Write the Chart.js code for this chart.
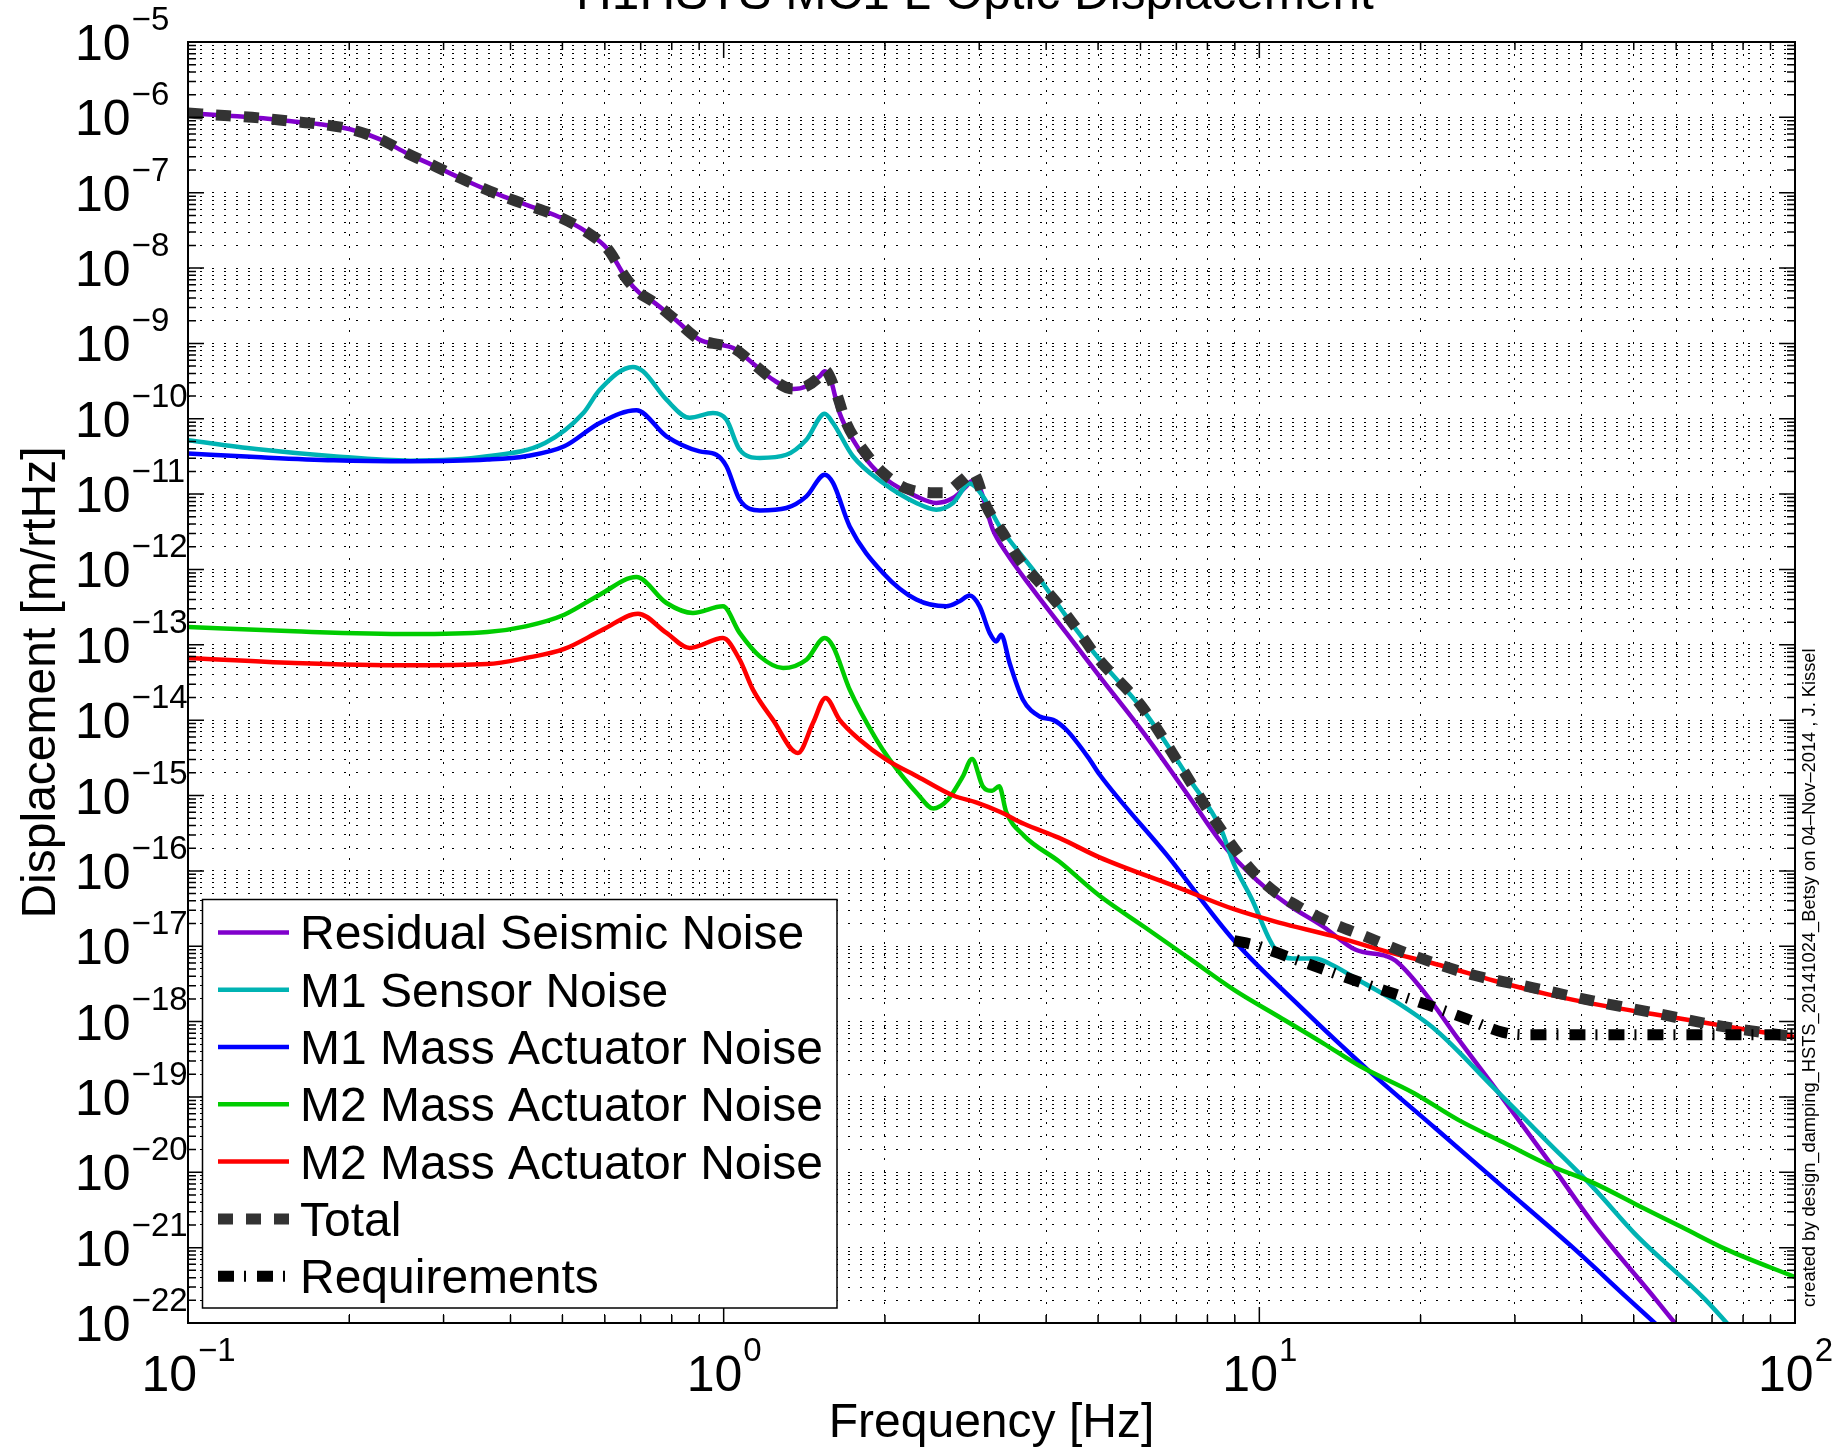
<!DOCTYPE html>
<html>
<head>
<meta charset="utf-8">
<title>HSTS MC1 L Optic Displacement</title>
<script src="https://cdn.jsdelivr.net/npm/chart.js@4.4.1/dist/chart.umd.min.js"></script>
<style>
  html, body { margin: 0; padding: 0; background: #fff; }
  #wrap { position: relative; width: 1846px; height: 1448px; overflow: hidden; }
  canvas { display: block; }
</style>
</head>
<body>
<div id="wrap"><canvas id="asdChart" width="1846" height="1448"></canvas></div>
<script>
// Frequency in Hz, displacement ASD in m/rtHz
const seismicFreq = [0.1, 0.119, 0.136, 0.156, 0.175, 0.2, 0.229, 0.257, 0.291, 0.329, 0.373, 0.427, 0.493, 0.553, 0.609, 0.657, 0.696, 0.737, 0.812, 0.902, 0.983, 1.042, 1.151, 1.236, 1.348, 1.427, 1.511, 1.544, 1.577, 1.646, 1.743, 1.847, 2.012, 2.289, 2.494, 2.68, 2.838, 2.9, 3.005, 3.181, 3.371, 3.78, 4.362, 5.032, 6.104, 7.4, 8.47, 9.88, 11.31, 13.19, 15.1, 17.29, 17.97, 20.16, 23.52, 27.98, 34.59, 41.94, 54.95, 65.0];
const seismicAsd = [1.14e-6, 1.05e-6, 9.82e-7, 8.87e-7, 8.18e-7, 7.0e-7, 5.07e-7, 3.30e-7, 2.20e-7, 1.46e-7, 9.93e-8, 6.95e-8, 4.77e-8, 3.07e-8, 1.75e-8, 7.39e-9, 4.68e-9, 3.61e-9, 2.07e-9, 1.12e-9, 9.64e-10, 8.69e-10, 4.96e-10, 3.30e-10, 2.48e-10, 2.70e-10, 3.66e-10, 4.27e-10, 3.66e-10, 1.19e-10, 5.28e-11, 2.87e-11, 1.56e-11, 9.33e-12, 7.64e-12, 8.87e-12, 1.27e-11, 1.48e-11, 1.21e-11, 3.37e-12, 1.66e-12, 5.41e-13, 1.44e-13, 3.81e-14, 6.52e-15, 9.58e-16, 2.43e-16, 7.59e-17, 3.57e-17, 1.80e-17, 9.04e-18, 7.36e-18, 6.43e-18, 2.64e-18, 5.85e-19, 1.13e-19, 1.45e-20, 2.12e-21, 2.06e-22, 4.7e-23];

const sensorFreq = [0.1, 0.134, 0.187, 0.26, 0.362, 0.464, 0.547, 0.587, 0.677, 0.707, 0.782, 0.864, 0.955, 1.012, 1.071, 1.168, 1.309, 1.427, 1.544, 1.6, 1.743, 1.984, 2.289, 2.494, 2.68, 2.878, 3.048, 3.275, 3.78, 4.362, 5.032, 6.104, 7.4, 8.47, 8.97, 9.7, 10.47, 10.88, 11.53, 12.7, 13.71, 15.4, 17.62, 21.37, 27.45, 34.59, 41.94, 50.85, 67.94, 83.8];
const sensorAsd = [5.18e-11, 3.96e-11, 3.18e-11, 2.78e-11, 3.18e-11, 4.77e-11, 1.19e-10, 2.43e-10, 4.87e-10, 4.27e-10, 1.79e-10, 1.03e-10, 1.19e-10, 9.72e-11, 3.90e-11, 3.02e-11, 3.33e-11, 5.28e-11, 1.17e-10, 8.79e-11, 3.18e-11, 1.41e-11, 7.64e-12, 6.22e-12, 7.64e-12, 1.38e-11, 9.33e-12, 3.73e-12, 9.93e-13, 2.39e-13, 6.35e-14, 1.29e-14, 1.66e-15, 3.66e-16, 1.22e-16, 4.10e-17, 1.19e-17, 7.88e-18, 6.90e-18, 6.90e-18, 5.60e-18, 3.48e-18, 2.01e-18, 7.69e-19, 1.30e-19, 2.50e-20, 6.35e-21, 1.40e-21, 2.06e-22, 3.9e-23];

const m1ActFreq = [0.1, 0.134, 0.187, 0.26, 0.362, 0.427, 0.504, 0.587, 0.687, 0.782, 0.902, 0.969, 1.012, 1.071, 1.168, 1.309, 1.427, 1.544, 1.6, 1.719, 1.984, 2.289, 2.604, 2.756, 2.878, 3.005, 3.137, 3.228, 3.297, 3.418, 3.62, 3.89, 4.12, 4.362, 4.823, 5.032, 6.722, 8.97, 11.99, 16.0, 21.37, 28.53, 38.1, 48.96, 58.77];
const m1ActAsd = [3.45e-11, 3.10e-11, 2.81e-11, 2.73e-11, 2.87e-11, 3.18e-11, 4.31e-11, 8.79e-11, 1.30e-10, 5.85e-11, 3.69e-11, 3.33e-11, 2.34e-11, 8.45e-12, 6.08e-12, 6.54e-12, 9.33e-12, 1.81e-11, 1.41e-11, 3.73e-12, 8.97e-13, 3.98e-13, 3.24e-13, 3.78e-13, 4.50e-13, 3.24e-13, 1.44e-13, 1.11e-13, 1.36e-13, 5.74e-14, 1.87e-14, 1.12e-14, 1.01e-14, 7.46e-15, 3.00e-15, 1.90e-15, 1.62e-16, 1.19e-17, 1.52e-18, 2.24e-19, 3.78e-20, 6.35e-21, 1.07e-21, 2.06e-22, 6.3e-23];

const m2ActFreq = [0.1, 0.158, 0.26, 0.362, 0.427, 0.504, 0.587, 0.687, 0.782, 0.876, 0.997, 1.071, 1.168, 1.291, 1.427, 1.544, 1.6, 1.719, 1.928, 2.041, 2.304, 2.461, 2.616, 2.794, 2.909, 3.045, 3.17, 3.268, 3.369, 3.634, 4.23, 5.032, 6.104, 7.4, 8.97, 10.88, 13.19, 15.4, 19.41, 23.52, 28.53, 34.59, 41.94, 50.85, 61.7, 74.8, 100];
const m2ActAsd = [1.72e-13, 1.51e-13, 1.39e-13, 1.48e-13, 1.76e-13, 2.51e-13, 4.63e-13, 7.94e-13, 3.59e-13, 2.64e-13, 3.24e-13, 1.44e-13, 7.03e-14, 4.92e-14, 6.35e-14, 1.23e-13, 9.55e-14, 2.54e-14, 5.51e-15, 3.00e-15, 1.04e-15, 6.73e-16, 8.66e-16, 1.78e-15, 3.05e-15, 1.33e-15, 1.155e-15, 1.33e-15, 6.04e-16, 2.94e-16, 1.33e-16, 4.68e-17, 1.80e-17, 6.90e-18, 2.64e-18, 1.16e-18, 5.11e-19, 2.57e-19, 1.13e-19, 4.96e-20, 2.50e-20, 1.26e-20, 7.29e-21, 3.66e-21, 1.85e-21, 9.33e-22, 4.07e-22];

const m2ActBFreq = [0.1, 0.158, 0.26, 0.362, 0.427, 0.504, 0.595, 0.692, 0.782, 0.864, 0.997, 1.071, 1.134, 1.236, 1.376, 1.468, 1.55, 1.646, 1.794, 2.012, 2.304, 2.683, 2.969, 3.285, 3.634, 4.23, 5.032, 6.985, 8.97, 10.88, 13.71, 17.29, 21.78, 27.45, 34.59, 43.58, 54.95, 69.25, 82.3, 100];
const m2ActBAsd = [6.68e-14, 5.74e-14, 5.35e-14, 5.56e-14, 6.68e-14, 8.81e-14, 1.59e-13, 2.59e-13, 1.44e-13, 9.08e-14, 1.23e-13, 6.35e-14, 2.54e-14, 1.01e-14, 3.66e-15, 9.17e-15, 1.97e-14, 1.01e-14, 5.51e-15, 3.00e-15, 1.78e-15, 1.0e-15, 8.06e-16, 6.04e-16, 4.22e-16, 2.74e-16, 1.51e-16, 6.18e-17, 3.10e-17, 2.06e-17, 1.37e-17, 8.48e-18, 5.60e-18, 3.48e-18, 2.30e-18, 1.64e-18, 1.24e-18, 9.44e-19, 7.69e-19, 6.26e-19];

const totalFreq = [0.1, 0.119, 0.136, 0.156, 0.175, 0.2, 0.229, 0.257, 0.291, 0.329, 0.373, 0.427, 0.493, 0.553, 0.609, 0.657, 0.696, 0.737, 0.812, 0.902, 0.983, 1.042, 1.151, 1.236, 1.348, 1.427, 1.511, 1.544, 1.623, 1.694, 1.82, 1.984, 2.225, 2.568, 2.796, 2.919, 3.093, 3.321, 3.568, 3.89, 4.24, 4.62, 4.963, 6.045, 7.12, 8.23, 9.7, 10.78, 12.09, 13.58, 15.7, 19.04, 24.69, 32.34, 41.94, 54.95, 71.96, 100];
const totalAsd = [1.14e-6, 1.05e-6, 9.82e-7, 8.87e-7, 8.18e-7, 7.0e-7, 5.07e-7, 3.30e-7, 2.20e-7, 1.46e-7, 9.93e-8, 6.95e-8, 4.77e-8, 3.07e-8, 1.75e-8, 7.39e-9, 4.68e-9, 3.61e-9, 2.07e-9, 1.12e-9, 9.64e-10, 8.69e-10, 4.96e-10, 3.30e-10, 2.48e-10, 2.70e-10, 3.66e-10, 4.43e-10, 2.20e-10, 8.79e-11, 3.90e-11, 1.91e-11, 1.15e-11, 1.04e-11, 1.56e-11, 1.91e-11, 6.88e-12, 3.05e-12, 1.35e-12, 6.61e-13, 3.24e-13, 1.44e-13, 7.03e-14, 1.49e-14, 2.49e-15, 4.82e-16, 9.96e-17, 5.04e-17, 3.10e-17, 2.06e-17, 1.37e-17, 7.88e-18, 4.27e-18, 2.83e-18, 1.88e-18, 1.29e-18, 8.81e-19, 6.26e-19];

const reqFreq = [8.97, 9.78, 11.53, 13.45, 15.85, 17.79, 20.76, 24.46, 28.53, 31.0, 100];
const reqAsd = [1.19e-17, 1.04e-17, 6.90e-18, 4.70e-18, 3.10e-18, 2.36e-18, 1.64e-18, 1.08e-18, 7.18e-19, 6.71e-19, 6.71e-19];

// axis decades (tick labels are 10^n)
const xDecades = [-1, 0, 1, 2];
const yDecades = [-22, -21, -20, -19, -18, -17, -16, -15, -14, -13, -12, -11, -10, -9, -8, -7, -6, -5];

const chartTitle = 'H1HSTS MC1 L Optic Displacement';
const xTitle = 'Frequency [Hz]';
const yTitle = 'Displacement [m/rtHz]';
const creditText = 'created by design_damping_HSTS_20141024_Betsy on 04\u2013Nov\u20132014 , J. Kissel';

const FONT = '"Liberation Sans", Arial, Helvetica, sans-serif';

function series(freq, asd) {
    return freq.map((f, i) => ({ x: f, y: asd[i] }));
}

// 1..9 x 10^n for every decade, plus the last decade line
function logTicks(decades) {
    const out = [];
    decades.forEach((e, k) => {
        const last = k === decades.length - 1;
        for (let m = 1; m <= (last ? 1 : 9); m++) {
            out.push({ value: m * Math.pow(10, e), major: m === 1 });
        }
    });
    return out;
}

// superscript style label: "10" then exponent
function drawPower(ctx, exp, x, y, align) {
    const base = '10';
    const sup = String(exp).replace('-', '\u2212');
    ctx.font = '50px ' + FONT;
    const wb = ctx.measureText(base).width;
    ctx.font = '33px ' + FONT;
    const ws = ctx.measureText(sup).width;
    let left = x;
    if (align === 'center') left = x - (wb + ws) / 2;
    ctx.textAlign = 'left';
    ctx.font = '50px ' + FONT;
    ctx.fillText(base, left, y);
    ctx.font = '33px ' + FONT;
    ctx.fillText(sup, left + wb + 1, y - 30);
}

const matlabFrame = {
    id: 'matlabFrame',
    afterDraw(chart) {
        const { ctx, chartArea: a, scales } = chart;
        const xs = scales.x, ys = scales.y;
        ctx.save();

        // inward tick marks on all four sides
        ctx.strokeStyle = '#000';
        ctx.lineWidth = 1.5;
        ctx.beginPath();
        xs.ticks.forEach(t => {
            const px = xs.getPixelForValue(t.value);
            const len = t.major ? 16 : 8;
            ctx.moveTo(px, a.bottom); ctx.lineTo(px, a.bottom - len);
            ctx.moveTo(px, a.top); ctx.lineTo(px, a.top + len);
        });
        ys.ticks.forEach(t => {
            const py = ys.getPixelForValue(t.value);
            const len = t.major ? 16 : 8;
            ctx.moveTo(a.left, py); ctx.lineTo(a.left + len, py);
            ctx.moveTo(a.right, py); ctx.lineTo(a.right - len, py);
        });
        ctx.stroke();

        // axes box
        ctx.lineWidth = 2;
        ctx.strokeRect(a.left, a.top, a.right - a.left, a.bottom - a.top);

        // tick labels
        ctx.fillStyle = '#000';
        ctx.textBaseline = 'alphabetic';
        yDecades.forEach(e => {
            const py = ys.getPixelForValue(Math.pow(10, e));
            drawPower(ctx, e, 75, py + 18, 'left');
        });
        xDecades.forEach(e => {
            const px = xs.getPixelForValue(Math.pow(10, e));
            drawPower(ctx, e, px, a.bottom + 68, 'center');
        });

        // titles (the figure title sits mostly above the page edge)
        const cx = (a.left + a.right) / 2;
        ctx.textAlign = 'center';
        ctx.font = '49.5px ' + FONT;
        ctx.fillText(chartTitle, 975, 9);
        ctx.font = '48px ' + FONT;
        ctx.fillText(xTitle, cx, 1437);
        ctx.save();
        ctx.translate(55, (a.top + a.bottom) / 2);
        ctx.rotate(-Math.PI / 2);
        ctx.fillText(yTitle, 0, 0);
        ctx.restore();

        // credit line along the right edge
        ctx.save();
        ctx.translate(1815, 1307);
        ctx.rotate(-Math.PI / 2);
        ctx.textAlign = 'left';
        ctx.font = '18.3px ' + FONT;
        ctx.fillText(creditText, 0, 0);
        ctx.restore();

        // legend box, bottom left inside the axes
        const items = chart.data.datasets.slice().reverse();
        const box = { x: 202.5, y: 899.5, w: 634.5, h: 408.5 };
        ctx.fillStyle = '#fff';
        ctx.fillRect(box.x, box.y, box.w, box.h);
        ctx.strokeStyle = '#000';
        ctx.lineWidth = 1.5;
        ctx.strokeRect(box.x, box.y, box.w, box.h);
        items.forEach((ds, i) => {
            const ry = 932.4 + i * 57.3;
            ctx.save();
            ctx.strokeStyle = ds.borderColor;
            ctx.lineWidth = ds.borderWidth;
            ctx.setLineDash(ds.borderDash || []);
            ctx.beginPath();
            ctx.moveTo(218, ry);
            ctx.lineTo(289, ry);
            ctx.stroke();
            ctx.restore();
            ctx.fillStyle = '#000';
            ctx.textAlign = 'left';
            ctx.font = '48px ' + FONT;
            ctx.fillText(ds.label, 300, ry + 17);
        });

        ctx.restore();
    }
};

const ctx = document.getElementById('asdChart').getContext('2d');

const thin = { borderWidth: 4.5, pointRadius: 0, cubicInterpolationMode: 'monotone', borderJoinStyle: 'round', fill: false };

new Chart(ctx, {
    type: 'line',
    data: {
        // first dataset is drawn on top, so the list runs from last plotted to first
        datasets: [
            Object.assign({}, thin, { label: 'Requirements', data: series(reqFreq, reqAsd), borderColor: '#000000', borderWidth: 11, borderDash: [16, 10, 2, 11] }),
            Object.assign({}, thin, { label: 'Total', data: series(totalFreq, totalAsd), borderColor: '#333333', borderWidth: 11, borderDash: [15, 13] }),
            Object.assign({}, thin, { label: 'M2 Mass Actuator Noise', data: series(m2ActBFreq, m2ActBAsd), borderColor: '#ff0000' }),
            Object.assign({}, thin, { label: 'M2 Mass Actuator Noise', data: series(m2ActFreq, m2ActAsd), borderColor: '#00cc00' }),
            Object.assign({}, thin, { label: 'M1 Mass Actuator Noise', data: series(m1ActFreq, m1ActAsd), borderColor: '#0000ff' }),
            Object.assign({}, thin, { label: 'M1 Sensor Noise', data: series(sensorFreq, sensorAsd), borderColor: '#00b3b3' }),
            Object.assign({}, thin, { label: 'Residual Seismic Noise', data: series(seismicFreq, seismicAsd), borderColor: '#8000cc' })
        ]
    },
    options: {
        responsive: false,
        devicePixelRatio: 1,
        animation: false,
        events: [],
        layout: { padding: { left: 188, top: 42, right: 51, bottom: 125 } },
        plugins: {
            legend: { display: false },
            title: { display: false },
            tooltip: { enabled: false }
        },
        scales: {
            x: {
                type: 'logarithmic',
                min: 0.1,
                max: 100,
                afterBuildTicks: scale => { scale.ticks = logTicks(xDecades); },
                ticks: { display: false },
                grid: { color: '#000', lineWidth: 1, drawTicks: false },
                border: { display: false, dash: [2, 10] }
            },
            y: {
                type: 'logarithmic',
                min: 1e-22,
                max: 1e-5,
                afterBuildTicks: scale => { scale.ticks = logTicks(yDecades); },
                ticks: { display: false },
                grid: { color: '#000', lineWidth: 1, drawTicks: false },
                border: { display: false, dash: [2, 10] }
            }
        }
    },
    plugins: [matlabFrame]
});
</script>
</body>
</html>
